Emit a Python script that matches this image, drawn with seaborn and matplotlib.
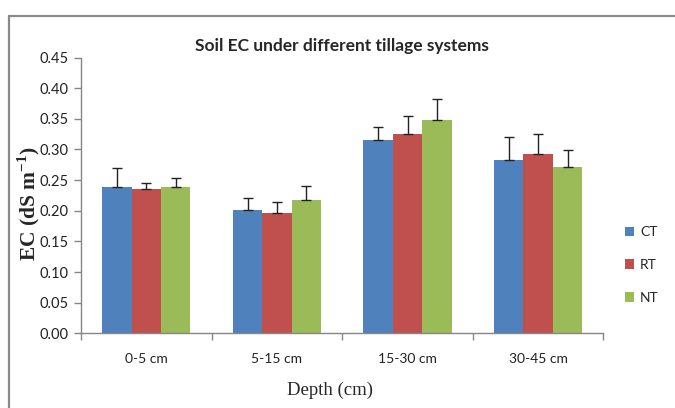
import matplotlib
matplotlib.use("Agg")
import matplotlib.pyplot as plt
import seaborn as sns
import pandas as pd
import numpy as np
from matplotlib.patches import Patch
from matplotlib.lines import Line2D

depths = ["0-5 cm", "5-15 cm", "15-30 cm", "30-45 cm"]
systems = ["CT", "RT", "NT"]
ct_vals = [0.238, 0.201, 0.315, 0.283]
rt_vals = [0.235, 0.197, 0.326, 0.292]
nt_vals = [0.238, 0.218, 0.348, 0.272]
ct_err = [0.031, 0.020, 0.022, 0.037]
rt_err = [0.011, 0.017, 0.029, 0.033]
nt_err = [0.016, 0.023, 0.035, 0.027]
colors = ["#4F81BD", "#C0504D", "#9BBB59"]

sns.set_style("white")
plt.rcParams["font.family"] = ["Lato", "DejaVu Sans"]
plt.rcParams["mathtext.fontset"] = "custom"
plt.rcParams["mathtext.rm"] = "Liberation Serif"
plt.rcParams["mathtext.bf"] = "Liberation Serif:bold"

vals = {"CT": ct_vals, "RT": rt_vals, "NT": nt_vals}
errs = {"CT": ct_err, "RT": rt_err, "NT": nt_err}
rows = []
for s in systems:
    for d, v, e in zip(depths, vals[s], errs[s]):
        rows.append({"Depth": d, "System": s, "EC": v, "err": e})
df = pd.DataFrame(rows)

fig = plt.figure(figsize=(6.75, 4.08), dpi=100)
ax = fig.add_axes([0.12, 0.183, 0.774, 0.676])
sns.barplot(data=df, x="Depth", y="EC", hue="System", order=depths,
            hue_order=systems, palette=colors, width=0.675, errorbar=None,
            saturation=1, edgecolor="none", ax=ax, legend=False)

# error bars (upper only) from bar patches
for i, s in enumerate(systems):
    cont = ax.containers[i]
    xs = [p.get_x() + p.get_width() / 2 for p in cont.patches]
    ys = [p.get_height() for p in cont.patches]
    ax.errorbar(xs, ys, yerr=[np.zeros(len(ys)), errs[s]], fmt="none",
                ecolor="#222222", elinewidth=1.0, capsize=3.5, capthick=1.0)

ax.set_ylim(0, 0.45)
ax.set_xlim(-0.5, len(depths) - 0.5)
ax.set_yticks(np.arange(0, 0.451, 0.05))
ax.set_yticklabels([f"{t:.2f}" for t in np.arange(0, 0.451, 0.05)], fontsize=10.5, color="#222222")
ax.set_xticks(range(len(depths)))
ax.set_xticklabels(depths, fontsize=10, color="#222222")
ax.set_xticks(np.arange(-0.5, len(depths), 1.0), minor=True)
ax.tick_params(axis="x", which="major", length=0, pad=14)
ax.tick_params(axis="x", which="minor", length=5, color="#868686", width=1, direction="out")
ax.tick_params(axis="y", which="major", length=5, color="#868686", width=1, direction="out", pad=4)
ax.tick_params(bottom=True, left=True, which="both")
for side in ["top", "right"]:
    ax.spines[side].set_visible(False)
for side in ["left", "bottom"]:
    ax.spines[side].set_color("#868686")
    ax.spines[side].set_linewidth(1.0)

ax.set_title("Soil EC under different tillage systems", fontsize=12.5, fontweight="bold", pad=5)
ax.set_xlabel("Depth (cm)", family="Liberation Serif", fontsize=13.5, labelpad=8)
ax.set_ylabel(r"EC (dS m$^{\mathbf{-1}}$)", family="Liberation Serif", fontsize=15.5, fontweight="bold")
ax.yaxis.set_label_coords(-0.075, 0.47)
ax.xaxis.set_label_coords(0.477, -0.175)

handles = [Patch(facecolor=c, edgecolor="none") for c in colors]
fig.legend(handles, systems, loc="center left", bbox_to_anchor=(0.907, 0.35),
           frameon=False, handlelength=0.7, handleheight=0.7, handletextpad=0.4,
           labelspacing=1.5, fontsize=10)

# outer frame (top and left edges)
fig.add_artist(Line2D([9 / 675, 1.0], [1 - 15.5 / 408, 1 - 15.5 / 408],
                      transform=fig.transFigure, color="#8a8a8a", linewidth=1.6))
fig.add_artist(Line2D([9 / 675, 9 / 675], [0, 1 - 15.5 / 408],
                      transform=fig.transFigure, color="#8a8a8a", linewidth=1.6))

fig.savefig("out.png", dpi=100, facecolor="white")
